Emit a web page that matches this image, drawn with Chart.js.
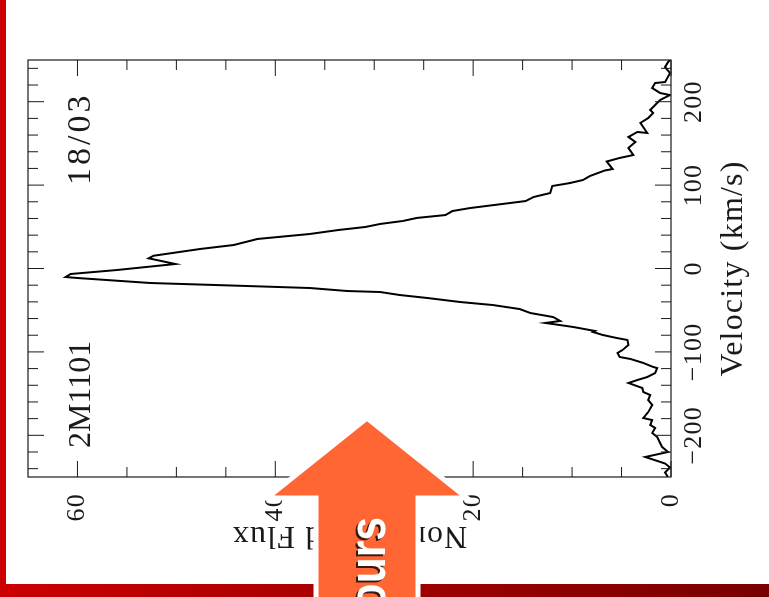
<!DOCTYPE html>
<html>
<head>
<meta charset="utf-8">
<script src="https://cdn.jsdelivr.net/npm/chart.js@4.4.1/dist/chart.umd.min.js"></script>
<style>
  html, body { margin: 0; padding: 0; background: #fff; }
  body { width: 769px; height: 597px; position: relative; overflow: hidden; }
  #leftbar { position: absolute; left: 0; top: 0; width: 6px; height: 597px; background: #cc0000; }
  #bottombar { position: absolute; left: 0; top: 584px; width: 769px; height: 13px;
    background: linear-gradient(90deg, #cc0000, #780000); }
  #wrap { position: absolute; left: 0; top: 0; width: 530px; height: 749px;
    transform-origin: 0 0; transform: translate(20px, 570px) rotate(-90deg); }
  #arrow { position: absolute; left: 0; top: 0; }
</style>
</head>
<body>
<div id="leftbar"></div>
<div id="bottombar"></div>
<div id="wrap"><canvas id="spec" width="530" height="749"></canvas></div>
<svg id="arrow" width="769" height="597">
  <polygon points="367,418 467,498 418,498 418,600 316,600 316,498 267,498"
           fill="#ff6633" stroke="#ffffff" stroke-width="5" stroke-linejoin="miter"/>
  <g font-family="Liberation Sans, Arial, sans-serif" font-weight="bold" font-size="52" text-anchor="end">
    <text transform="translate(383,519) rotate(-90) scale(0.82,1)" fill="#3a1a10">ours</text>
    <text transform="translate(385,517) rotate(-90) scale(0.82,1)" fill="#ffffff">ours</text>
  </g>
</svg>
<script>
// velocity (km/s) and normalized flux
const velocity = [
  -250, -244.6, -238.6, -233.8, -226.0, -220.0, -214.0, -202.0, -197.2, -191.2,
  -187.6, -181.7, -179.3, -172.1, -163.7, -157.7, -151.7, -148.1, -143.3, -137.3,
  -133.7, -130.1, -125.3, -119.3, -118.1, -113.3, -108.5, -106.1, -101.3, -97.7,
  -91.7, -85.7, -83.3, -79.7, -76.1, -74.9, -70.1, -65.3, -62.9, -58.2,
  -53.4, -48.6, -43.8, -40.2, -35.4, -31.8, -28.2, -27.0, -23.4, -20.4,
  -17.4, -11.4, -10.2, -6.6, -1.8, 5.4, 12.2, 15.3, 23.4, 28.2,
  35.4, 41.4, 46.2, 49.8, 53.4, 57.0, 60.6, 64.1, 68.9, 72.5,
  78.5, 80.9, 85.7, 90.5, 98.9, 102.5, 106.1, 110.9, 117.5, 119.3,
  128.3, 132.5, 136.1, 144.5, 151.7, 157.7, 163.7, 162.5, 174.5, 180.5,
  186.5, 190.1, 202.0, 208.0, 210.4, 216.4, 222.4, 223.6, 234.4, 241.6,
  247.6, 250
];
const flux = [
  0.3, 0.6, 0.1, 0.6, 2.6, 0.3, 0.9, 1.4, 1.9, 1.6,
  2.1, 1.9, 2.8, 2.3, 1.9, 2.3, 2.1, 2.8, 2.9, 4.3,
  3.4, 2.4, 1.6, 1.4, 1.8, 2.8, 4.1, 5.2, 5.4, 4.9,
  4.3, 4.4, 5.5, 6.9, 7.9, 7.7, 9.9, 12.7, 11.2, 11.9,
  14.2, 15.3, 18.0, 21.3, 24.6, 27.4, 29.4, 32.7, 36.5, 44.4,
  52.6, 60.0, 61.2, 60.7, 56.0, 50.1, 52.8, 52.3, 47.6, 44.2,
  41.8, 36.5, 33.6, 30.9, 29.4, 27.1, 25.7, 22.8, 22.1, 20.3,
  16.3, 14.7, 13.9, 12.2, 12.0, 10.2, 8.9, 8.2, 6.7, 5.9,
  6.5, 5.2, 3.8, 4.3, 3.6, 4.3, 3.4, 2.4, 3.1, 2.3,
  1.8, 2.1, 1.1, 0.1, 1.1, 1.9, 1.6, 0.6, 0.1, 0.6,
  0.3, 0.1
];

const velTicks = [-200, -100, 0, 100, 200];
const velMinor = [-240, -220, -180, -160, -140, -120, -80, -60, -40, -20,
                  20, 40, 60, 80, 120, 140, 160, 180, 220, 240];
const fluxTicks = [0, 20, 40, 60];
const fluxMinor = [5, 10, 15, 25, 30, 35, 45, 50, 55];

const serif = 'Liberation Serif';
const ink = '#1a1a1a';

// PGPLOT-style box: frame, inward ticks on all sides, and the two labels
const boxPlugin = {
  id: 'box',
  beforeDraw(chart) {
    // the original plot font is a bit wider spaced than Times
    chart.ctx.letterSpacing = '1.2px';
  },
  afterDraw(chart) {
    const ctx = chart.ctx;
    const a = chart.chartArea;
    const xs = chart.scales.x, ys = chart.scales.y;
    ctx.save();
    ctx.strokeStyle = ink;
    ctx.lineWidth = 1.2;
    ctx.strokeRect(a.left, a.top, a.right - a.left, a.bottom - a.top);

    ctx.lineWidth = 1;
    ctx.beginPath();
    const xtick = (v, len) => {
      const p = xs.getPixelForValue(v);
      ctx.moveTo(p, a.bottom); ctx.lineTo(p, a.bottom - len);
      ctx.moveTo(p, a.top); ctx.lineTo(p, a.top + len);
    };
    const ytick = (v, len) => {
      const p = ys.getPixelForValue(v);
      ctx.moveTo(a.left, p); ctx.lineTo(a.left + len, p);
      ctx.moveTo(a.right, p); ctx.lineTo(a.right - len, p);
    };
    velTicks.forEach(v => xtick(v, 16));
    velMinor.forEach(v => xtick(v, 10));
    fluxTicks.forEach(v => ytick(v, 16));
    fluxMinor.forEach(v => ytick(v, 10));
    ctx.stroke();

    ctx.fillStyle = ink;
    ctx.textBaseline = 'alphabetic';
    ctx.textAlign = 'left';
    ctx.letterSpacing = '0px';
    ctx.font = '32px ' + serif;
    ctx.fillText('2M1101', a.left + 29, a.top + 62);
    ctx.font = '34px ' + serif;
    ctx.letterSpacing = '3px';
    ctx.fillText('18/03', a.left + 292, a.top + 62);
    ctx.restore();
    ctx.letterSpacing = '0px';
  }
};

// keep the plot box exactly where the original sits
const noPad = s => { s.paddingTop = 0; s.paddingBottom = 0; s.paddingLeft = 0; s.paddingRight = 0; };

const points = velocity.map((v, i) => ({ x: v, y: flux[i] }));

new Chart(document.getElementById('spec'), {
  type: 'line',
  data: {
    datasets: [{
      data: points,
      borderColor: '#000',
      borderWidth: 2,
      pointRadius: 0,
      tension: 0,
      fill: false
    }]
  },
  options: {
    responsive: false,
    animation: false,
    layout: { padding: { top: 8, right: 20, left: 0, bottom: 0 } },
    plugins: { legend: { display: false }, tooltip: { enabled: false } },
    scales: {
      x: {
        type: 'linear',
        min: -250,
        max: 250,
        afterBuildTicks: s => { s.ticks = velTicks.map(v => ({ value: v })); },
        afterFit: s => { s.height = 98; noPad(s); },
        grid: { display: false, drawTicks: false },
        border: { display: false },
        ticks: {
          font: { family: serif, size: 26 }, color: ink, padding: 8, maxRotation: 0, autoSkip: false,
          callback: v => String(v).replace('-', '\u2212')
        },
        title: { display: true, text: 'Velocity (km/s)', color: ink,
                 font: { family: serif, size: 32 }, padding: { top: 0, bottom: 16 } }
      },
      y: {
        type: 'linear',
        min: 0,
        max: 65,
        afterBuildTicks: s => { s.ticks = fluxTicks.map(v => ({ value: v })); },
        afterFit: s => { s.width = 93; noPad(s); },
        grid: { display: false, drawTicks: false },
        border: { display: false },
        ticks: { font: { family: serif, size: 26 }, color: ink, padding: 16 },
        title: { display: true, text: 'Normalized Flux', color: ink,
                 font: { family: serif, size: 32 }, padding: { top: 15, bottom: 0 } }
      }
    }
  },
  plugins: [boxPlugin]
});
</script>
</body>
</html>
